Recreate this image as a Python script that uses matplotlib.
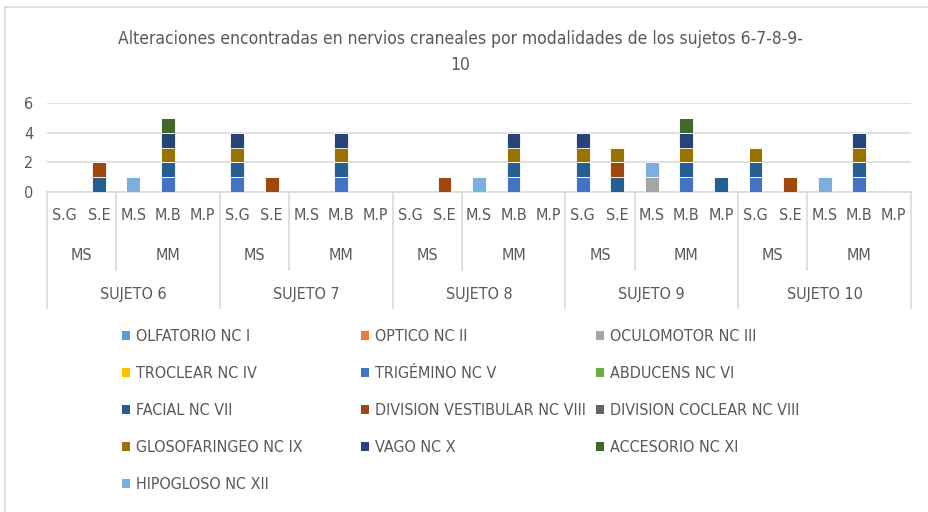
import matplotlib
matplotlib.use("Agg")
import matplotlib.pyplot as plt
import matplotlib.transforms as mtransforms
from matplotlib import font_manager
from matplotlib.patches import Patch
from matplotlib.lines import Line2D
import numpy as np

# narrow font close to Calibri: prefer Liberation Sans Narrow, else condensed DejaVu
installed = {f.name for f in font_manager.fontManager.ttflist}
if 'Liberation Sans Narrow' in installed:
    plt.rcParams['font.family'] = ['Liberation Sans Narrow', 'DejaVu Sans']
else:
    plt.rcParams['font.family'] = ['DejaVu Sans']
    plt.rcParams['font.stretch'] = 'condensed'

# Data: 5 subjects x 5 modalities
subjects = ['SUJETO 6', 'SUJETO 7', 'SUJETO 8', 'SUJETO 9', 'SUJETO 10']
groups = ['MS', 'MM']
modalities = ['S.G', 'S.E', 'M.S', 'M.B', 'M.P']
group_of_modality = ['MS', 'MS', 'MM', 'MM', 'MM']

series_names = [
    'OLFATORIO NC I', 'OPTICO NC II', 'OCULOMOTOR NC III', 'TROCLEAR NC IV',
    'TRIGÉMINO NC V', 'ABDUCENS NC VI', 'FACIAL NC VII',
    'DIVISION VESTIBULAR NC VIII', 'DIVISION COCLEAR NC VIII',
    'GLOSOFARINGEO NC IX', 'VAGO NC X', 'ACCESORIO NC XI', 'HIPOGLOSO NC XII',
]
series_colors = [
    '#5B9BD5', '#ED7D31', '#A5A5A5', '#FFC000', '#4472C4', '#70AD47',
    '#255E91', '#9E480E', '#636363', '#997300', '#264478', '#43682B', '#7CAFDD',
]

# values per series, 25 categories (S6: SG SE MS MB MP | S7 ... | S10)
olfatorio     = [0]*25
optico        = [0]*25
oculomotor    = [0,0,0,0,0, 0,0,0,0,0, 0,0,0,0,0, 0,0,1,0,0, 0,0,0,0,0]
troclear      = [0]*25
trigemino     = [0,0,0,1,0, 1,0,0,1,0, 0,0,0,1,0, 1,0,0,1,0, 1,0,0,1,0]
abducens      = [0]*25
facial        = [0,1,0,1,0, 1,0,0,1,0, 0,0,0,1,0, 1,1,0,1,1, 1,0,0,1,0]
vestibular    = [0,1,0,0,0, 0,1,0,0,0, 0,1,0,0,0, 0,1,0,0,0, 0,1,0,0,0]
coclear       = [0]*25
glosofaringeo = [0,0,0,1,0, 1,0,0,1,0, 0,0,0,1,0, 1,1,0,1,0, 1,0,0,1,0]
vago          = [0,0,0,1,0, 1,0,0,1,0, 0,0,0,1,0, 1,0,0,1,0, 0,0,0,1,0]
accesorio     = [0,0,0,1,0, 0,0,0,0,0, 0,0,0,0,0, 0,0,0,1,0, 0,0,0,0,0]
hipogloso     = [0,0,1,0,0, 0,0,0,0,0, 0,0,1,0,0, 0,0,1,0,0, 0,0,1,0,0]

series_values = [olfatorio, optico, oculomotor, troclear, trigemino, abducens,
                 facial, vestibular, coclear, glosofaringeo, vago, accesorio,
                 hipogloso]

W, H = 929, 512
text_color = '#595959'
line_color = '#D9D9D9'
fs = 11.5

fig = plt.figure(figsize=(W / 100, H / 100), dpi=100)
ax = fig.add_axes([47 / W, 1 - 192 / H, (911 - 47) / W, (192 - 103) / H])

n = len(subjects) * len(modalities)
x = np.arange(n)
bottom = np.zeros(n)
for vals, color, name in zip(series_values, series_colors, series_names):
    vals = np.array(vals, dtype=float)
    ax.bar(x, vals, 0.4, bottom=bottom, color=color, label=name,
           edgecolor='#ffffff', linewidth=0.6, zorder=3)
    bottom += vals

ax.set_xlim(-0.5, n - 0.5)
ax.set_ylim(0, 6)
ax.set_yticks([0, 2, 4, 6])
ax.yaxis.grid(True, color=line_color, linewidth=1.2, zorder=0)
ax.tick_params(axis='y', length=0, labelsize=fs, labelcolor=text_color, pad=10)
ax.set_xticks([])
for s in ['top', 'right', 'left']:
    ax.spines[s].set_visible(False)
ax.spines['bottom'].set_color(line_color)
ax.spines['bottom'].set_linewidth(1.2)

# multi-level category axis
tr = mtransforms.blended_transform_factory(ax.transData, fig.transFigure)
y_axis = 1 - 192 / H
for i in range(n):
    ax.text(x[i], 1 - 215 / H, modalities[i % 5], transform=tr, ha='center',
            va='center', fontsize=fs, color=text_color)
for si, subj in enumerate(subjects):
    start = si * 5
    for g in groups:
        idx = [start + k for k in range(5) if group_of_modality[k] == g]
        ax.text(np.mean(idx), 1 - 256 / H, g, transform=tr, ha='center',
                va='center', fontsize=fs, color=text_color)
    ax.text(start + 2, 1 - 295 / H, subj, transform=tr, ha='center',
            va='center', fontsize=fs, color=text_color)
    # separator between MS and MM
    ax.add_line(Line2D([start + 1.5] * 2, [y_axis, 1 - 270 / H], transform=tr,
                       color=line_color, linewidth=1.2, clip_on=False))
for b in np.arange(len(subjects) + 1) * 5 - 0.5:
    ax.add_line(Line2D([b, b], [y_axis, 1 - 308 / H], transform=tr,
                       color=line_color, linewidth=1.2, clip_on=False))

# title
fig.text(460 / W, 1 - 52 / H,
         'Alteraciones encontradas en nervios craneales por modalidades de los sujetos 6-7-8-9-\n10',
         ha='center', va='center', fontsize=12.5, color=text_color,
         linespacing=1.55)

# legend, 3 columns laid out row by row
handles = [Patch(facecolor=c, edgecolor='none') for c in series_colors]
col_x = [122, 361, 596]
for c in range(3):
    idx = list(range(c, len(series_names), 3))
    fig.legend([handles[i] for i in idx], [series_names[i] for i in idx],
               loc='upper left', bbox_to_anchor=(col_x[c] / W, 1 - 329 / H),
               frameon=False, fontsize=fs, labelcolor=text_color,
               handlelength=0.5, handleheight=0.5, handletextpad=0.35,
               labelspacing=1.38, borderpad=0, borderaxespad=0)

# chart border (left and top)
fig.add_artist(Line2D([5 / W, 5 / W], [0, 1 - 7 / H], transform=fig.transFigure,
                      color=line_color, linewidth=1.2))
fig.add_artist(Line2D([5 / W, 1], [1 - 7 / H, 1 - 7 / H], transform=fig.transFigure,
                      color=line_color, linewidth=1.2))

fig.savefig('out.png', dpi=100)
